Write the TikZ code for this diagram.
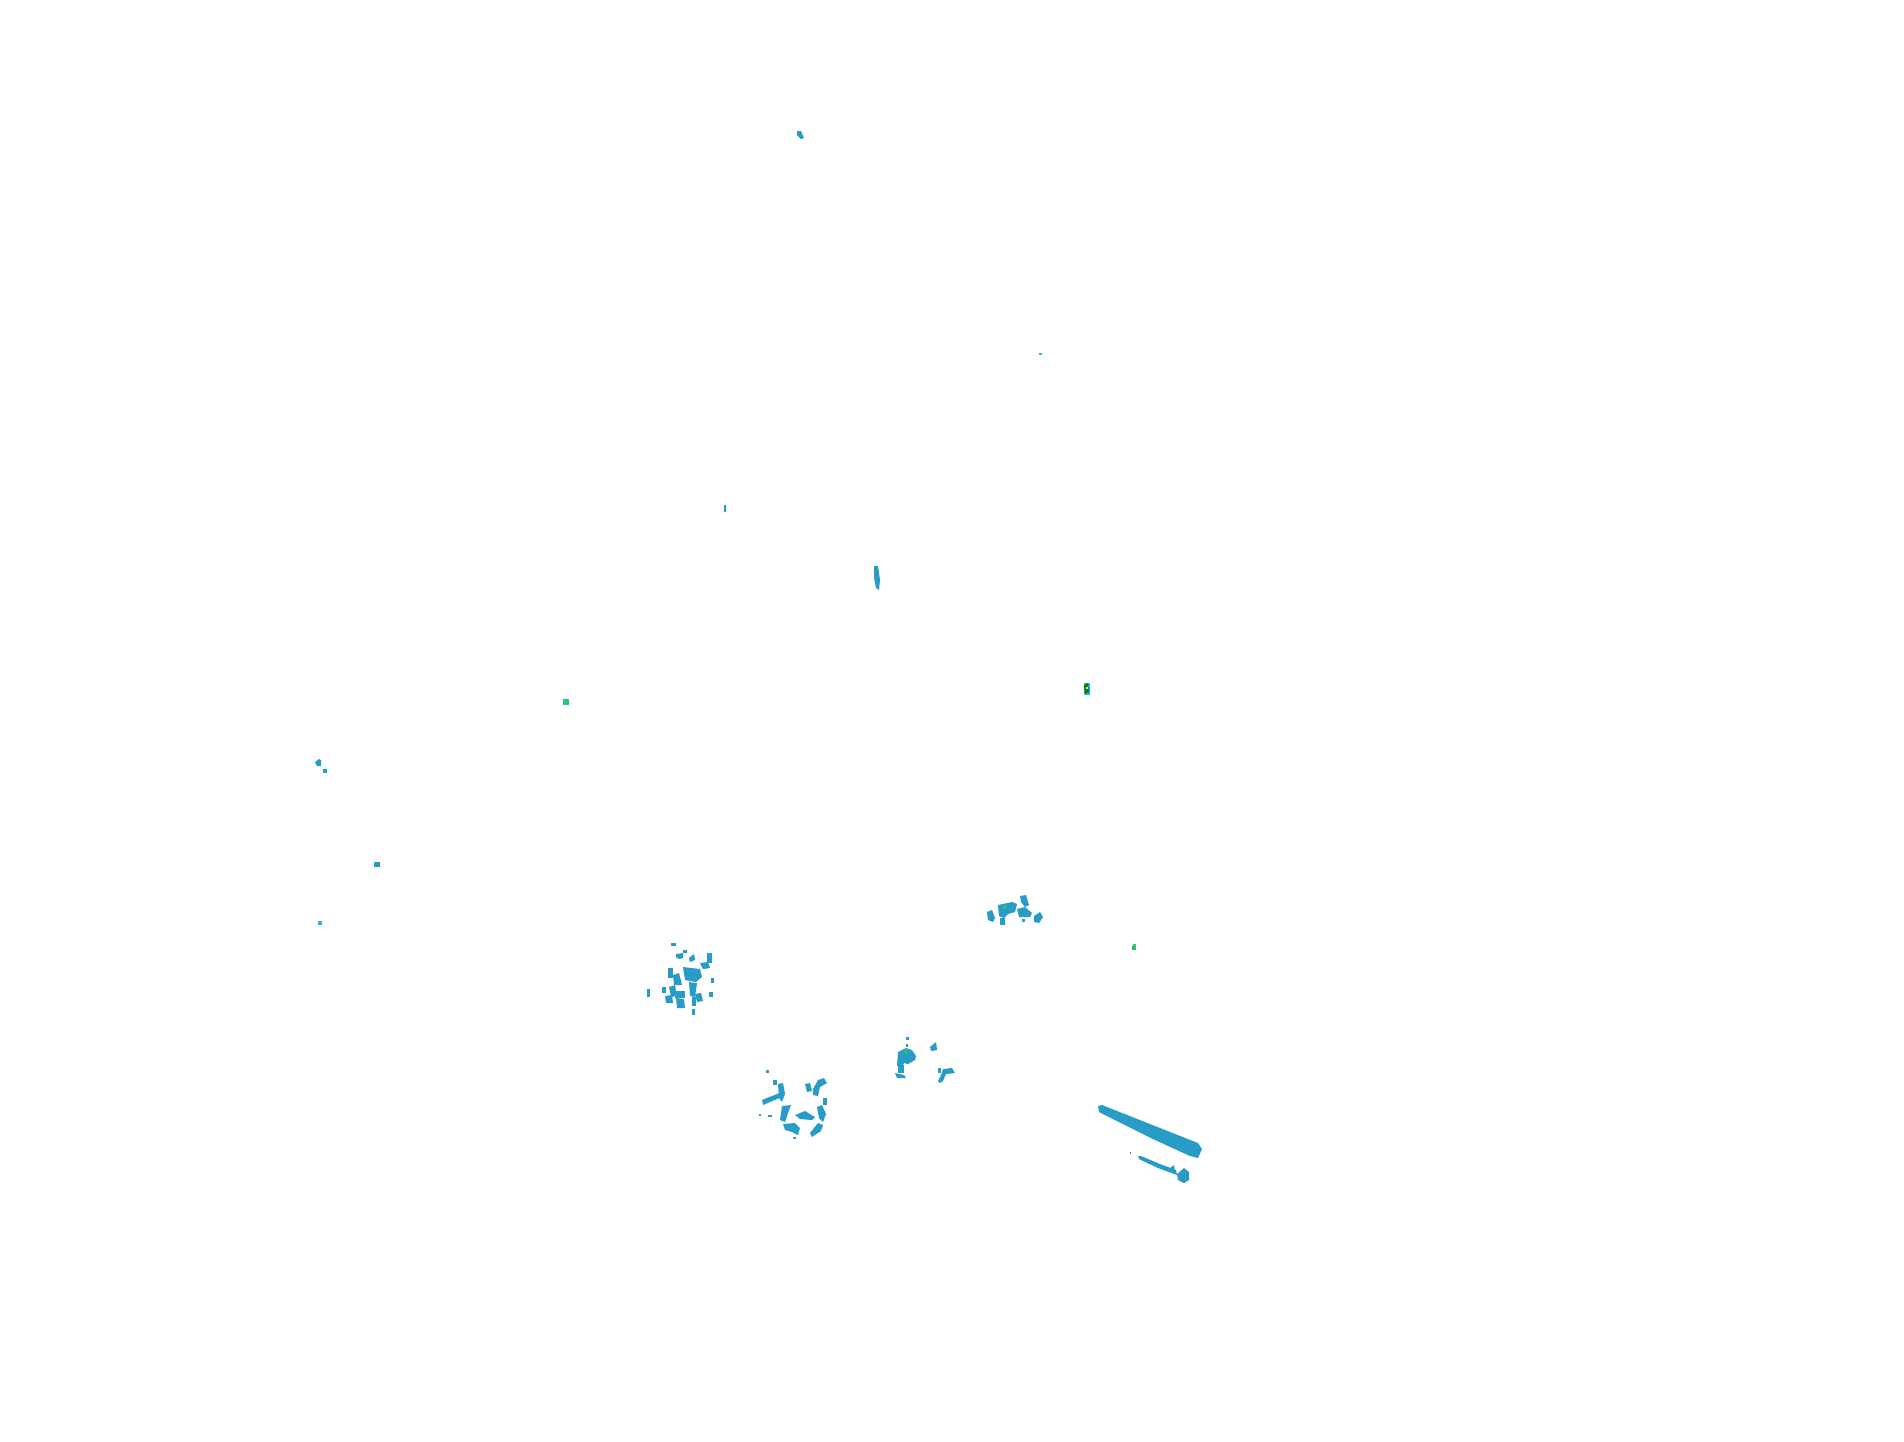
\documentclass[tikz,border=0pt]{standalone}
\usepackage{tikz}

\definecolor{PointBlue}{RGB}{40,155,198}
\definecolor{PointCyan}{RGB}{30,185,220}
\definecolor{PointGreen}{RGB}{40,210,70}
\definecolor{PointDarkGreen}{RGB}{10,120,30}

\tikzstyle{Blob}=[fill=PointBlue,draw=none]
\tikzstyle{BlobCyan}=[fill=PointCyan,draw=none]
\tikzstyle{BlobGreen}=[fill=PointGreen,draw=none]
\tikzstyle{BlobDark}=[fill=PointDarkGreen,draw=none]

\begin{document}
\begin{tikzpicture}[x=0.01cm, y=-0.01cm]
		\useasboundingbox (0,0) rectangle (1904,1441);
		
		% Scattered single points
		\fill[Blob] (797,131) -- (801,131) -- (804,138) -- (801,139) -- (797,135) -- cycle;
		\fill[BlobGreen] (1039,353) rectangle (1042,355);
		\fill[Blob] (724,505) rectangle (726,512);
		\fill[Blob] (874,566) -- (878,566) -- (880,580) -- (879,590) -- (876,588) -- (874,578) -- cycle;
		\fill[BlobCyan] (563,699) rectangle (569,705);
		\fill[BlobGreen] (564,700) rectangle (568,704);
		\fill[BlobCyan] (1084,683) rectangle (1090,695);
		\fill[BlobDark] (1084,685) -- (1088,683) -- (1089,692) -- (1085,694) -- cycle;
		\fill[yellow] (1086,687) rectangle (1088,689);
		\fill[BlobGreen] (1133,944) rectangle (1136,950);
		\fill[Blob] (1132,946) rectangle (1134,950);
		
		% Left stray points
		\fill[Blob] (315,762) -- (319,759) -- (321,760) -- (321,766) -- (317,766) -- cycle;
		\fill[Blob] (323,769) rectangle (327,773);
		\fill[Blob] (374,862) rectangle (380,867);
		\fill[BlobCyan] (318,921) rectangle (322,925);
		
		% Cluster 1 (centre right)
		\fill[Blob] (987,912) -- (992,910) -- (995,918) -- (993,922) -- (988,920) -- cycle;
		\fill[Blob] (998,905) -- (1012,902) -- (1017,904) -- (1015,912) -- (1008,914) -- (1004,918) -- (999,916) -- cycle;
		\fill[Blob] (1000,918) rectangle (1005,925);
		\fill[Blob] (1017,909) -- (1025,907) -- (1032,913) -- (1030,917) -- (1019,917) -- cycle;
		\fill[Blob] (1020,896) -- (1026,895) -- (1029,905) -- (1025,907) -- (1021,902) -- cycle;
		\fill[Blob] (1034,916) -- (1040,912) -- (1043,917) -- (1039,923) -- (1034,922) -- cycle;
		\fill[Blob] (1022,919) rectangle (1025,922);
		\fill[BlobGreen] (1003,906) rectangle (1006,909);
		
		% Cluster 2 (left lower)
		\fill[Blob] (671,943) rectangle (676,946);
		\fill[Blob] (676,954) -- (683,953) -- (683,958) -- (679,959) -- (676,957) -- cycle;
		\fill[Blob] (683,950) rectangle (687,953);
		\fill[Blob] (689,958) -- (694,954) -- (695,960) -- (690,962) -- cycle;
		\fill[Blob] (707,953) rectangle (712,963);
		\fill[Blob] (700,963) -- (708,962) -- (710,968) -- (703,969) -- cycle;
		\fill[Blob] (668,968) rectangle (673,978);
		\fill[Blob] (683,967) -- (700,969) -- (702,977) -- (696,982) -- (685,980) -- cycle;
		\fill[Blob] (673,975) -- (679,973) -- (682,985) -- (674,985) -- cycle;
		\fill[Blob] (711,978) rectangle (714,983);
		\fill[Blob] (689,982) -- (697,983) -- (695,997) -- (690,996) -- cycle;
		\fill[Blob] (669,987) -- (675,985) -- (677,996) -- (671,997) -- cycle;
		\fill[Blob] (665,996) -- (672,995) -- (673,1003) -- (666,1003) -- cycle;
		\fill[Blob] (675,991) rectangle (685,998);
		\fill[Blob] (676,998) -- (684,999) -- (685,1008) -- (677,1008) -- cycle;
		\fill[Blob] (695,994) -- (701,993) -- (703,1001) -- (697,1002) -- cycle;
		\fill[Blob] (692,997) rectangle (696,1006);
		\fill[Blob] (662,987) rectangle (666,993);
		\fill[Blob] (647,989) rectangle (650,997);
		\fill[Blob] (709,992) rectangle (713,997);
		\fill[Blob] (692,1009) rectangle (695,1015);
		
		% Cluster 3 (bottom middle)
		\fill[Blob] (766,1070) rectangle (769,1073);
		\fill[Blob] (773,1080) rectangle (777,1085);
		\fill[Blob] (778,1084) -- (783,1083) -- (785,1094) -- (782,1102) -- (779,1098) -- cycle;
		\fill[Blob] (762,1100) -- (772,1096) -- (782,1092) -- (782,1097) -- (770,1102) -- (763,1105) -- cycle;
		\fill[Blob] (805,1084) -- (810,1083) -- (812,1091) -- (807,1092) -- cycle;
		\fill[Blob] (813,1089) -- (818,1080) -- (824,1078) -- (827,1083) -- (820,1087) -- (818,1096) -- (813,1095) -- cycle;
		\fill[Blob] (823,1098) rectangle (827,1105);
		\fill[Blob] (782,1106) -- (791,1105) -- (788,1113) -- (785,1122) -- (780,1120) -- cycle;
		\fill[Blob] (795,1115) -- (805,1111) -- (815,1117) -- (812,1120) -- (800,1119) -- cycle;
		\fill[Blob] (817,1107) -- (822,1105) -- (826,1114) -- (823,1122) -- (819,1118) -- cycle;
		\fill[Blob] (783,1124) -- (795,1123) -- (800,1128) -- (798,1135) -- (792,1132) -- (785,1130) -- cycle;
		\fill[Blob] (818,1123) -- (823,1125) -- (821,1131) -- (812,1137) -- (810,1133) -- cycle;
		\fill[Blob] (759,1114) rectangle (761,1116);
		\fill[Blob] (768,1115) rectangle (772,1117);
		\fill[Blob] (793,1137) rectangle (796,1139);
		
		% Cluster 4 (bottom right of middle)
		\fill[Blob] (906,1037) rectangle (909,1040);
		\fill[Blob] (906,1044) rectangle (908,1047);
		\fill[Blob] (898,1052) -- (906,1048) -- (912,1050) -- (916,1056) -- (915,1060) -- (908,1064) -- (904,1063) -- (902,1067) -- (897,1066) -- cycle;
		\fill[Blob] (898,1065) rectangle (904,1073);
		\fill[Blob] (895,1073) -- (904,1075) -- (906,1078) -- (897,1078) -- cycle;
		\fill[BlobGreen] (905,1049) rectangle (907,1054);
		\fill[Blob] (930,1047) -- (936,1042) -- (937,1050) -- (931,1051) -- cycle;
		\fill[Blob] (943,1069) -- (952,1068) -- (955,1073) -- (946,1074) -- (943,1081) -- (940,1083) -- (938,1081) -- (941,1075) -- cycle;
		\fill[Blob] (938,1068) rectangle (941,1073);
		
		% Long tapered streak
		\fill[Blob] (1098,1106) -- (1102,1105) -- (1160,1128) -- (1198,1143) -- (1202,1149) -- (1198,1158) -- (1190,1156) -- (1155,1140) -- (1099,1112) -- cycle;
		
		% Thin streak with end blob
		\fill[Blob] (1138,1156) -- (1141,1156) -- (1160,1164) -- (1176,1170) -- (1177,1175) -- (1158,1168) -- (1139,1159) -- cycle;
		\fill[Blob] (1170,1168) -- (1174,1165) -- (1175,1172) -- cycle;
		\fill[Blob] (1177,1174) -- (1184,1168) -- (1189,1172) -- (1189,1180) -- (1184,1183) -- (1178,1180) -- cycle;
		\fill[Blob] (1130,1152) rectangle (1131,1154);
		
	\end{tikzpicture}
\end{document}
